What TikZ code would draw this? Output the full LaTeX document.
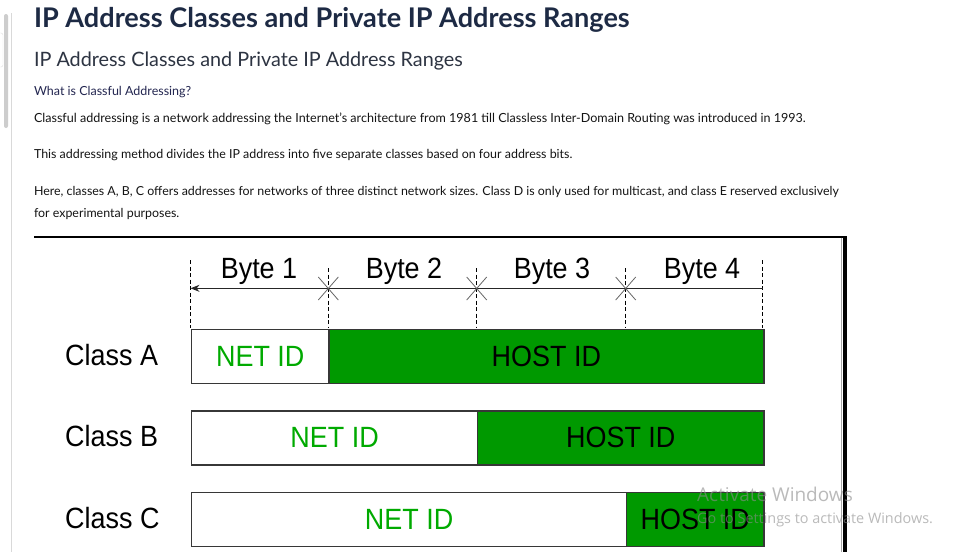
\documentclass[tikz,border=0pt]{standalone}
\usepackage{fontspec}
\setmainfont{Lato}
\newfontfamily\diagfont[FakeStretch=0.92]{Liberation Sans}
\newfontfamily\winfont{Open Sans}
\usetikzlibrary{arrows.meta}
\definecolor{gfill}{RGB}{0,153,0}
\definecolor{gtext}{RGB}{0,170,0}
\definecolor{titlecol}{RGB}{29,42,68}
\definecolor{subcol}{RGB}{45,52,66}
\definecolor{qcol}{RGB}{35,38,80}
\definecolor{bodycol}{RGB}{20,20,20}
\definecolor{boxline}{RGB}{55,55,55}
\definecolor{chrome}{RGB}{205,205,205}
\begin{document}
\begin{tikzpicture}[x=1pt,y=-1pt,
  webtext/.style={anchor=base west, inner sep=0pt, outer sep=0pt},
  seg/.style={draw=boxline, line width=1.2pt, minimum height=54pt, inner sep=0pt,
    anchor=north west, font=\diagfont\fontsize{29.3}{32}\selectfont},
  netseg/.style={seg, fill=white, text=gtext},
  hostseg/.style={seg, fill=gfill, text=black},
  classlbl/.style={anchor=base west, inner sep=0pt, font=\diagfont\fontsize{29.3}{32}\selectfont},
  bytelbl/.style={anchor=base, inner sep=0pt, font=\diagfont\fontsize{29.3}{32}\selectfont},
  guide/.style={draw=black, line width=0.8pt, dash pattern=on 4pt off 2.5pt},
  xmark/.style={draw=black!60, line width=0.8pt},
  wm/.style={anchor=base west, inner sep=0pt, text=black!45, opacity=0.6}
]
\useasboundingbox (0,0) rectangle (963,552);
\fill[white] (0,0) rectangle (963,552);

% browser chrome on the left
\fill[chrome, rounded corners=2pt] (4,14) rectangle (8,128);
\draw[black!12, rounded corners=2pt] (0,33) -- (3,33) -- (3,67) -- (0,67);
\draw[black!15, line width=1pt] (11.5,13) -- (11.5,552);

% page text
\node[webtext, text=titlecol, font=\bfseries\fontsize{27.1}{30}\selectfont] (title) at (34,27)
  {IP Address Classes and Private IP Address Ranges};
\node[webtext, text=subcol, font=\fontsize{19.8}{24}\selectfont] (subtitle) at (34,66.7)
  {IP Address Classes and Private IP Address Ranges};
\node[webtext, text=qcol, font=\fontsize{12.5}{15}\selectfont] (question) at (34,95)
  {What is Classful Addressing?};
\node[webtext, text=bodycol, font=\fontsize{12.55}{15}\selectfont] (para1) at (34,122.7)
  {Classful addressing is a network addressing the Internet’s architecture from 1981 till Classless Inter-Domain Routing was introduced in 1993.};
\node[webtext, text=bodycol, font=\fontsize{12.44}{15}\selectfont] (para2) at (34,158.3)
  {This addressing method divides the IP address into five separate classes based on four address bits.};
\node[webtext, text=bodycol, font=\fontsize{12.4}{15}\selectfont] (para3a) at (34,195)
  {Here, classes A, B, C offers addresses for networks of three distinct network sizes. Class D is only used for multicast, and class E reserved exclusively};
\node[webtext, text=bodycol, font=\fontsize{12.4}{15}\selectfont] (para3b) at (34,217.7)
  {for experimental purposes.};

% image frame
\draw[black, line width=1.8pt] (34,236.7) -- (846.5,236.7);
\draw[black!35, line width=0.8pt] (841.5,237.5) -- (841.5,552);
\fill[black] (843,236) rectangle (847.3,552);

% byte header
\coordinate (g0t) at (190.5,260); \coordinate (g0b) at (190.5,328);
\coordinate (g1t) at (328.3,268); \coordinate (g1b) at (328.3,328);
\coordinate (g2t) at (476.7,268); \coordinate (g2b) at (476.7,328);
\coordinate (g3t) at (625.7,268); \coordinate (g3b) at (625.7,328);
\coordinate (g4t) at (762.7,260); \coordinate (g4b) at (762.7,328);
\foreach \i in {0,...,4} { \draw[guide] (g\i t) -- (g\i b); }
\coordinate (arrL) at (190.5,288.3);
\coordinate (arrR) at (762.7,288.3);
\draw[black!85, line width=1pt, {Stealth[length=9pt,width=7pt]}-] (arrL) -- (arrR);
\foreach \xx in {328.3,476.7,625.7} {
  \draw[xmark] (\xx-10,277) -- (\xx+10,300);
  \draw[xmark] (\xx-10,300) -- (\xx+10,277);
}
\node[bytelbl] (byte1) at (259,278) {Byte 1};
\node[bytelbl] (byte2) at (404,278) {Byte 2};
\node[bytelbl] (byte3) at (552,278) {Byte 3};
\node[bytelbl] (byte4) at (702,278) {Byte 4};

% class A
\node[classlbl] (clA) at (65,365) {Class A};
\node[netseg, minimum width=137.3pt] (aNet) at (191,329) {NET ID};
\node[hostseg, minimum width=435pt] (aHost) at (328.3,329) {HOST ID};
% class B
\node[classlbl] (clB) at (65,446.7) {Class B};
\node[netseg, minimum width=286pt] (bNet) at (191,410.3) {NET ID};
\node[hostseg, minimum width=286.3pt] (bHost) at (477,410.3) {HOST ID};
% class C
\node[classlbl] (clC) at (65,528) {Class C};
\node[netseg, minimum width=435pt] (cNet) at (191,491.7) {NET ID};
\node[hostseg, minimum width=137.3pt] (cHost) at (626,491.7) {HOST ID};

% watermark
\node[wm, font=\winfont\fontsize{19}{22}\selectfont] (wm1) at (697,501.7) {Activate Windows};
\node[wm, font=\winfont\fontsize{14.4}{17}\selectfont] (wm2) at (697,523.3) {Go to Settings to activate Windows.};
\end{tikzpicture}
\end{document}
